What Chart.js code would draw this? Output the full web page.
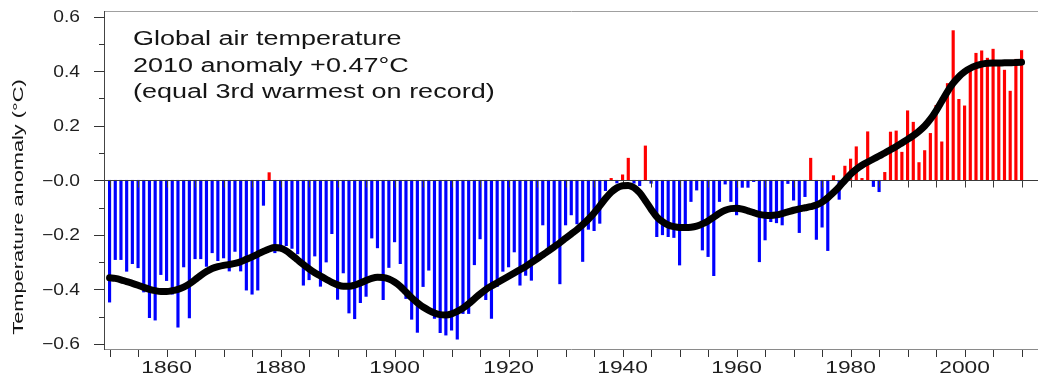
<!DOCTYPE html>
<html>
<head>
<meta charset="utf-8">
<script src="https://cdn.jsdelivr.net/npm/chart.js@4.4.1/dist/chart.umd.min.js"></script>
<style>
  html, body { margin: 0; padding: 0; background: #fff; }
  #wrap { width: 1038px; height: 376px; }
</style>
</head>
<body>
<div id="wrap"><canvas id="chart" width="1038" height="376"></canvas></div>
<script>
/* Global air temperature anomaly 1850-2010
 * ---- ---- ---- ---- */

const FIRST_YEAR = 1850;

// annual anomaly (°C), one value per year from 1850
const anomaly = [
  -0.447, -0.291, -0.291, -0.334, -0.306, -0.321, -0.410, -0.504, -0.513, -0.346, // 1850s
  -0.368, -0.418, -0.539, -0.318, -0.505, -0.288, -0.288, -0.316, -0.266, -0.295, // 1860s
  -0.285, -0.333, -0.261, -0.333, -0.403, -0.418, -0.403, -0.092,  0.028, -0.266, // 1870s
  -0.245, -0.240, -0.250, -0.270, -0.385, -0.365, -0.278, -0.389, -0.300, -0.196, // 1880s
  -0.437, -0.340, -0.487, -0.508, -0.449, -0.426, -0.212, -0.248, -0.438, -0.320, // 1890s
  -0.226, -0.306, -0.434, -0.510, -0.558, -0.390, -0.330, -0.507, -0.559, -0.568, // 1900s
  -0.550, -0.583, -0.489, -0.489, -0.310, -0.215, -0.438, -0.507, -0.390, -0.334, // 1910s
  -0.318, -0.263, -0.385, -0.349, -0.367, -0.278, -0.164, -0.250, -0.231, -0.380, // 1920s
  -0.164, -0.127, -0.160, -0.298, -0.180, -0.185, -0.158, -0.038,  0.007, -0.010, // 1930s
   0.020,  0.081, -0.011, -0.020,  0.126, -0.011, -0.207, -0.200, -0.207, -0.210, // 1940s
  -0.311, -0.170, -0.078, -0.036, -0.256, -0.280, -0.350, -0.078, -0.014, -0.078, // 1950s
  -0.127, -0.026, -0.026, -0.005, -0.299, -0.219, -0.152, -0.156, -0.164, -0.012, // 1960s
  -0.073, -0.192, -0.060,  0.081, -0.217, -0.172, -0.258,  0.017, -0.070,  0.052, // 1970s
   0.078,  0.123,  0.007,  0.178, -0.023, -0.042,  0.029,  0.177,  0.181,  0.103, // 1980s
   0.255,  0.213,  0.065,  0.109,  0.172,  0.275,  0.141,  0.355,  0.549,  0.297, // 1990s
   0.273,  0.411,  0.466,  0.475,  0.448,  0.481,  0.430,  0.404,  0.327,  0.444, // 2000s
   0.476                                                                          // 2010
];

// smoothed curve, one value per year from 1850
const smooth = [
  -0.358, -0.360, -0.365, -0.372, -0.378, -0.385, -0.393, -0.400, -0.405, -0.408,
  -0.408, -0.405, -0.400, -0.392, -0.380, -0.365, -0.349, -0.335, -0.324, -0.317,
  -0.312, -0.309, -0.305, -0.299, -0.290, -0.281, -0.271, -0.261, -0.252, -0.247,
  -0.249, -0.259, -0.275, -0.292, -0.309, -0.325, -0.339, -0.351, -0.363, -0.375,
  -0.384, -0.389, -0.389, -0.385, -0.377, -0.368, -0.360, -0.356, -0.357, -0.362,
  -0.373, -0.389, -0.410, -0.431, -0.449, -0.465, -0.477, -0.487, -0.493, -0.494,
  -0.490, -0.481, -0.469, -0.453, -0.435, -0.417, -0.401, -0.388, -0.376, -0.364,
  -0.352, -0.340, -0.328, -0.316, -0.302, -0.288, -0.274, -0.259, -0.244, -0.229,
  -0.213, -0.197, -0.181, -0.163, -0.143, -0.120, -0.094, -0.067, -0.044, -0.028,
  -0.020, -0.019, -0.027, -0.046, -0.075, -0.106, -0.134, -0.152, -0.164, -0.170,
  -0.173, -0.173, -0.172, -0.168, -0.160, -0.149, -0.135, -0.121, -0.110, -0.104,
  -0.103, -0.106, -0.112, -0.119, -0.125, -0.128, -0.129, -0.127, -0.122, -0.116,
  -0.110, -0.105, -0.101, -0.097, -0.091, -0.080, -0.064, -0.045, -0.024,  0.000,
   0.022,  0.040,  0.055,  0.067,  0.078,  0.089,  0.100,  0.112,  0.124,  0.137,
   0.150,  0.164,  0.180,  0.199,  0.224,  0.255,  0.290,  0.325,  0.356,  0.380,
   0.398,  0.411,  0.420,  0.426,  0.429,  0.430,  0.430,  0.431,  0.431,  0.432,
   0.433
];

// axis ticks and labels
const yTickValues = [0.6, 0.4, 0.2, 0, -0.2, -0.4, -0.6];
const yTickLabels = ['0.6', '0.4', '0.2', '\u22120.0', '\u22120.2', '\u22120.4', '\u22120.6'];
const yMinorValues = [0.5, 0.3, 0.1, -0.1, -0.3, -0.5];
const xLabelYears = [1860, 1880, 1900, 1920, 1940, 1960, 1980, 2000];
const X_TICK_STEP = 5;

const noteLines = ['Global air temperature', '2010 anomaly +0.47\u00b0C', '(equal 3rd warmest on record)'];
const yTitle = 'Temperature anomaly (\u00b0C)';

const FONT = '"Liberation Sans", Arial, sans-serif';

// text widened the way the original picture is
function wideText(ctx, text, x, y, sx, align) {
  ctx.save();
  ctx.translate(x, y);
  ctx.scale(sx, 1);
  ctx.textAlign = align;
  ctx.fillText(text, 0, 0);
  ctx.restore();
}

const decor = {
  id: 'decor',

  // zero line with its little ticks, over the bars, under the curve
  afterDatasetDraw(chart, args) {
    if (args.index !== 1) return;
    const { ctx, chartArea: a, scales: { x, y } } = chart;
    const y0 = Math.round(y.getPixelForValue(0)) + 0.5;
    const lastYear = FIRST_YEAR + anomaly.length - 1;
    ctx.save();
    ctx.strokeStyle = '#3a3a3a';
    ctx.lineWidth = 1;
    ctx.beginPath();
    ctx.moveTo(a.left, y0);
    ctx.lineTo(a.right, y0);
    for (let yr = FIRST_YEAR; yr <= lastYear; yr += X_TICK_STEP) {
      const px = Math.round(x.getPixelForValue(yr)) + 0.5;
      ctx.moveTo(px, y0);
      ctx.lineTo(px, y0 + 7);
    }
    ctx.stroke();
    ctx.restore();
  },

  afterDraw(chart) {
    const { ctx, chartArea: a, scales: { x, y } } = chart;
    const lastYear = FIRST_YEAR + anomaly.length - 1;
    ctx.save();

    // frame
    ctx.lineWidth = 1;
    ctx.strokeStyle = '#a0a0a0';
    ctx.beginPath();
    ctx.moveTo(a.left, a.top + 0.5);
    ctx.lineTo(a.right, a.top + 0.5);
    ctx.stroke();
    ctx.strokeStyle = '#8a8a8a';
    ctx.beginPath();
    ctx.moveTo(a.left, a.bottom + 0.5);
    ctx.lineTo(a.right, a.bottom + 0.5);
    ctx.stroke();
    ctx.strokeStyle = '#444';
    ctx.beginPath();
    ctx.moveTo(a.left - 0.5, a.top);
    ctx.lineTo(a.left - 0.5, a.bottom + 1);
    ctx.stroke();

    // y ticks
    ctx.strokeStyle = '#333';
    ctx.beginPath();
    yTickValues.forEach(v => {
      const py = Math.round(y.getPixelForValue(v)) + 0.5;
      ctx.moveTo(a.left - 11, py);
      ctx.lineTo(a.left - 0.5, py);
    });
    yMinorValues.forEach(v => {
      const py = Math.round(y.getPixelForValue(v)) + 0.5;
      ctx.moveTo(a.left - 6, py);
      ctx.lineTo(a.left - 0.5, py);
    });
    // x ticks
    for (let yr = FIRST_YEAR; yr <= lastYear; yr += X_TICK_STEP) {
      const px = Math.round(x.getPixelForValue(yr)) + 0.5;
      ctx.moveTo(px, a.bottom + 1);
      ctx.lineTo(px, a.bottom + 8);
    }
    ctx.stroke();

    // tick labels
    ctx.fillStyle = '#1e1e1e';
    ctx.textBaseline = 'middle';
    ctx.font = '16px ' + FONT;
    yTickValues.forEach((v, i) => {
      wideText(ctx, yTickLabels[i], a.left - 25, y.getPixelForValue(v) + 1, 1.2, 'right');
    });
    ctx.textBaseline = 'alphabetic';
    ctx.font = '17px ' + FONT;
    xLabelYears.forEach(yr => {
      wideText(ctx, String(yr), x.getPixelForValue(yr), a.bottom + 24, 1.34, 'center');
    });

    // note in the upper left
    ctx.fillStyle = '#151515';
    ctx.font = '20px ' + FONT;
    noteLines.forEach((line, i) => {
      wideText(ctx, line, a.left + 28, a.top + 34 + i * 26.7, 1.35, 'left');
    });

    // y axis title
    ctx.font = '14.5px ' + FONT;
    ctx.textBaseline = 'middle';
    ctx.translate(19, 207);
    ctx.rotate(-Math.PI / 2);
    ctx.scale(1.5, 1);
    ctx.textAlign = 'center';
    ctx.fillText(yTitle, 0, 0);

    ctx.restore();
  }
};

const years = anomaly.map((v, i) => FIRST_YEAR + i);
const barPoints = years.map((yr, i) => ({ x: yr, y: anomaly[i] }));
const curvePoints = years.map((yr, i) => ({ x: yr, y: smooth[i] }));

new Chart(document.getElementById('chart'), {
  type: 'bar',
  data: {
    datasets: [
      {
        type: 'line',
        label: 'smoothed',
        data: curvePoints,
        borderColor: '#000',
        borderWidth: 7,
        pointRadius: 0,
        cubicInterpolationMode: 'monotone',
        borderCapStyle: 'round',
        borderJoinStyle: 'round',
        order: 0
      },
      {
        type: 'bar',
        label: 'annual anomaly',
        data: barPoints,
        backgroundColor: c => (c.raw && c.raw.y >= 0) ? '#ff0000' : '#0000ff',
        barThickness: 2.5,
        order: 1
      }
    ]
  },
  options: {
    responsive: false,
    animation: false,
    devicePixelRatio: 1,
    layout: { padding: { left: 105, right: 0, top: 11, bottom: 27 } },
    plugins: {
      legend: { display: false },
      tooltip: { enabled: false }
    },
    scales: {
      x: { type: 'linear', display: false, min: 1849.2, max: 2012.88, offset: false, grid: { offset: false } },
      y: { type: 'linear', display: false, min: -0.619, max: 0.621 }
    }
  },
  plugins: [decor]
});
</script>
</body>
</html>
